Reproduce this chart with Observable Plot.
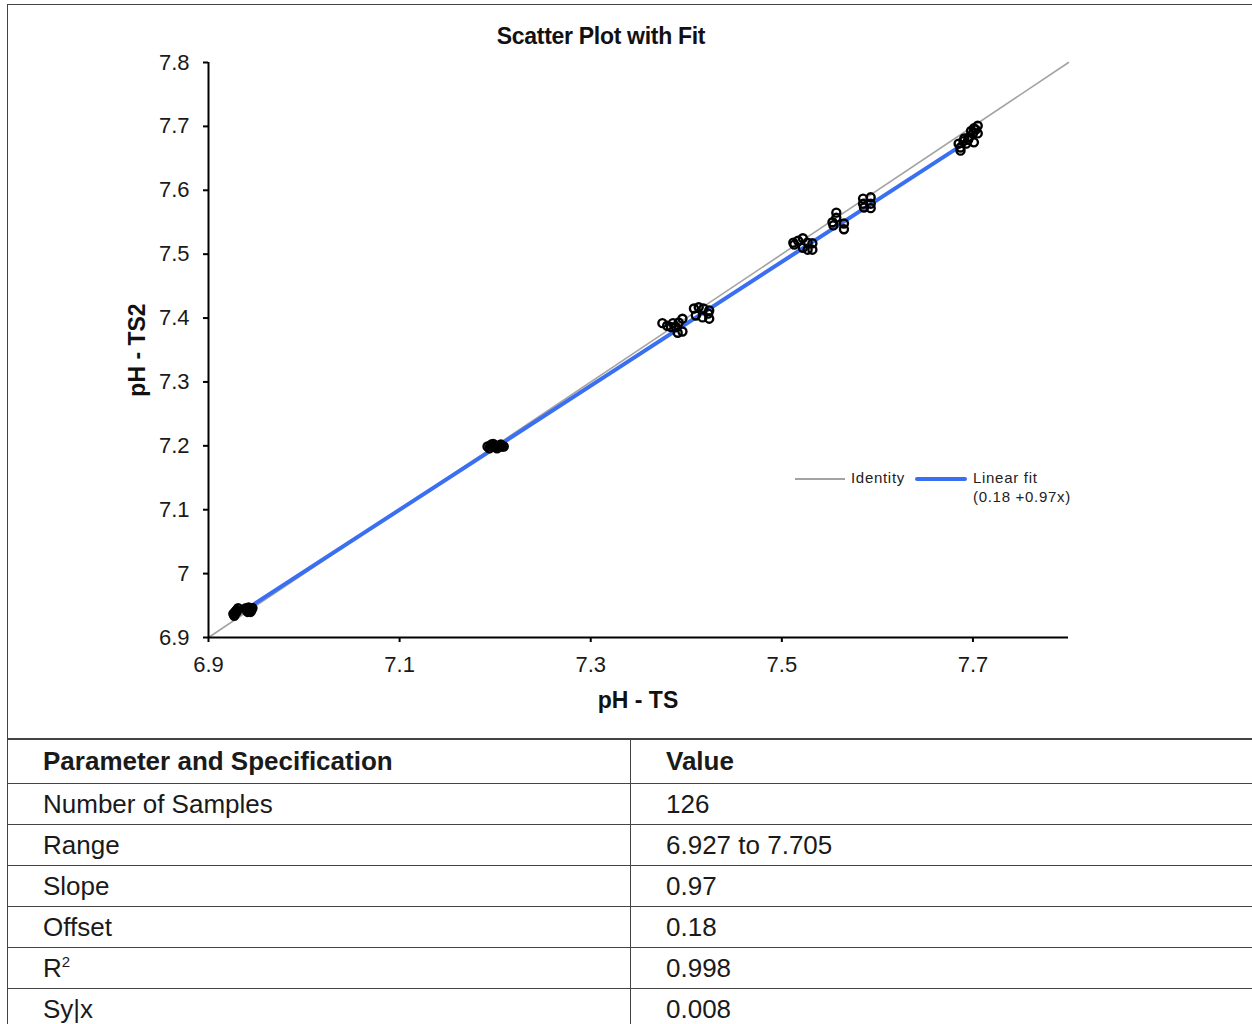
<!DOCTYPE html>
<html>
<head>
<meta charset="utf-8">
<script src="https://cdn.jsdelivr.net/npm/d3@7"></script>
<script src="https://cdn.jsdelivr.net/npm/@observablehq/plot@0.6"></script>
<style>
  html, body { margin: 0; padding: 0; background: #fff; width: 1252px; height: 1024px; overflow: hidden; }
  body { position: relative; font-family: "Liberation Sans", Arial, sans-serif; color: #111; }
  .abs { position: absolute; white-space: nowrap; }
  #frame { position: absolute; left: 7px; top: 4px; width: 1260px; height: 735px; border: 1.5px solid #444; box-sizing: border-box; }
  #chart { position: absolute; left: 0; top: 0; }
  .title { font-weight: bold; font-size: 23px; letter-spacing: -0.3px; }
  .axlabel { font-weight: bold; font-size: 23px; }
  .leg { font-size: 15px; letter-spacing: 0.7px; color: #222; }
  table { position: absolute; left: 7px; top: 739px; border-collapse: collapse; font-size: 26px; table-layout: fixed; width: 1264px; color: #1a1a1a; }
  td { border: 1.5px solid #444; padding: 0 0 0 35px; height: 41px; box-sizing: border-box; vertical-align: middle; overflow: hidden; white-space: nowrap; }
  tr.head td { font-weight: bold; height: 44px; }
</style>
</head>
<body>
<div id="frame"></div>
<div id="chart"></div>
<div id="overlay"></div>
<script>
// ---- data ----
const xTicks = [6.9, 7.1, 7.3, 7.5, 7.7];
const yTicks = [6.9, 7.0, 7.1, 7.2, 7.3, 7.4, 7.5, 7.6, 7.7, 7.8];
const axisDomain = [6.9, 7.8];

const pH_TS = [
  6.927, 6.929, 6.927, 6.931, 6.939, 6.942, 6.946, 6.941, 6.944, 6.928,
  6.926, 6.929, 6.940, 6.943, 6.945, 6.930,
  7.192, 7.196, 7.200, 7.205, 7.209, 7.194, 7.202, 7.198, 7.206,
  7.195, 7.199, 7.203, 7.197, 7.201, 7.207,
  7.375, 7.380, 7.386, 7.389, 7.392, 7.396, 7.391, 7.396, 7.384,
  7.408, 7.413, 7.418, 7.424, 7.410, 7.417, 7.424, 7.423,
  7.512, 7.517, 7.522, 7.527, 7.532, 7.522, 7.527, 7.532, 7.513,
  7.557, 7.557, 7.553, 7.554, 7.565, 7.565,
  7.585, 7.593, 7.585, 7.593, 7.593, 7.586,
  7.705, 7.701, 7.700, 7.705, 7.696, 7.691, 7.701, 7.693, 7.687, 7.687, 7.685,
  7.698, 7.703, 7.690, 7.695
];
const pH_TS2 = [
  6.938, 6.942, 6.934, 6.946, 6.946, 6.947, 6.946, 6.940, 6.940, 6.940,
  6.937, 6.939, 6.943, 6.944, 6.943, 6.943,
  7.199, 7.202, 7.198, 7.201, 7.199, 7.196, 7.196, 7.203, 7.202,
  7.200, 7.199, 7.200, 7.201, 7.198, 7.199,
  7.392, 7.388, 7.392, 7.386, 7.393, 7.399, 7.377, 7.379, 7.386,
  7.415, 7.417, 7.415, 7.412, 7.404, 7.401, 7.399, 7.407,
  7.518, 7.521, 7.525, 7.518, 7.517, 7.510, 7.507, 7.507, 7.515,
  7.565, 7.557, 7.550, 7.545, 7.548, 7.539,
  7.587, 7.589, 7.579, 7.579, 7.572, 7.573,
  7.701, 7.697, 7.689, 7.689, 7.683, 7.681, 7.675, 7.673, 7.667, 7.662, 7.673,
  7.693, 7.695, 7.677, 7.679
];

const identityX = [6.9, 7.8];
const fitSlope = 0.97;
const fitIntercept = 0.213;
const fitXRange = [6.927, 7.688];

const legendLabels = ["Identity", "Linear fit", "(0.18 +0.97x)"];
const titleText = "Scatter Plot with Fit";
const xLabel = "pH - TS";
const yLabel = "pH - TS2";

const tableHeader = ["Parameter and Specification", "Value"];
const tableParams = ["Number of Samples", "Range", "Slope", "Offset", "R<sup style='font-size:15px'>2</sup>", "Sy|x"];
const tableValues = ["126", "6.927 to 7.705", "0.97", "0.18", "0.998", "0.008"];

// ---- build ----
const points = pH_TS.map((x, i) => ({x, y: pH_TS2[i]}));
const identity = identityX.map(v => ({x: v, y: v}));
const fit = fitXRange.map(x => ({x, y: fitIntercept + fitSlope * x}));
const blue = "#3b6ff2";

const chart = Plot.plot({
  width: 1252,
  height: 740,
  marginLeft: 208,
  marginRight: 184,
  marginTop: 62,
  marginBottom: 103,
  x: {domain: axisDomain},
  y: {domain: axisDomain},
  style: {fontFamily: "'Liberation Sans', Arial, sans-serif", background: "transparent", color: "#1a1a1a"},
  marks: [
    Plot.line(identity, {x: "x", y: "y", stroke: "#a3a3a3", strokeWidth: 1.6}),
    Plot.line(fit, {x: "x", y: "y", stroke: blue, strokeWidth: 4}),
    Plot.dot(points, {x: "x", y: "y", r: 4, stroke: "#000", strokeWidth: 2.4, fill: "none"}),
    Plot.axisY({ticks: yTicks, tickSize: 5, tickPadding: 14, fontSize: 22, strokeWidth: 2, stroke: "#000", label: null,
      tickFormat: d => String(+d.toFixed(1))}),
    Plot.axisX({ticks: xTicks, tickSize: 5, tickPadding: 14, fontSize: 22, strokeWidth: 2, stroke: "#000", label: null,
      tickFormat: d => String(+d.toFixed(1))}),
    Plot.ruleX([axisDomain[0]], {stroke: "#000", strokeWidth: 2}),
    Plot.ruleY([axisDomain[0]], {stroke: "#000", strokeWidth: 2})
  ]
});
document.getElementById("chart").appendChild(chart);

const ov = document.getElementById("overlay");
ov.innerHTML = `
  <div class="abs title" style="left:0;width:1202px;text-align:center;top:23px;">${titleText}</div>
  <div class="abs axlabel" style="left:438px;width:400px;text-align:center;top:687px;">${xLabel}</div>
  <div class="abs axlabel" style="left:137px;top:350px;transform:translate(-50%,-50%) rotate(-90deg);">${yLabel}</div>
  <div class="abs" style="left:795px;top:478px;width:50px;height:2px;background:#a3a3a3;"></div>
  <div class="abs leg" style="left:851px;top:469px;">${legendLabels[0]}</div>
  <div class="abs" style="left:915px;top:477px;width:52px;height:4px;border-radius:2px;background:${blue};"></div>
  <div class="abs leg" style="left:973px;top:469px;">${legendLabels[1]}</div>
  <div class="abs leg" style="left:973px;top:488px;">${legendLabels[2]}</div>
`;

const tbl = document.createElement("table");
let html = `<colgroup><col style="width:623px"><col style="width:641px"></colgroup>`;
html += `<tr class="head"><td>${tableHeader[0]}</td><td>${tableHeader[1]}</td></tr>`;
tableParams.forEach((p, i) => {
  html += `<tr><td>${p}</td><td>${tableValues[i]}</td></tr>`;
});
tbl.innerHTML = html;
document.body.appendChild(tbl);
</script>
</body>
</html>
